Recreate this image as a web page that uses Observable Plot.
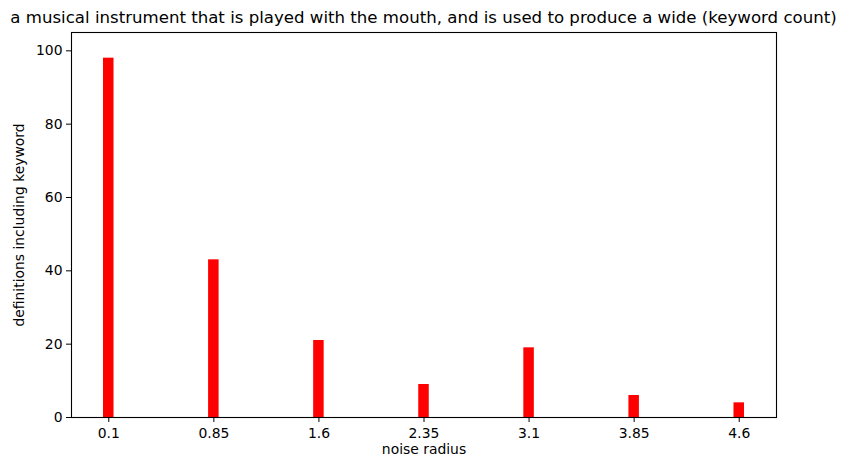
<!DOCTYPE html>
<html>
<head>
<meta charset="utf-8">
<script src="https://cdn.jsdelivr.net/npm/d3@7"></script>
<script src="https://cdn.jsdelivr.net/npm/@observablehq/plot@0.6"></script>
<style>
  html, body { margin: 0; padding: 0; background: white; }
  #wrap { position: relative; width: 846px; height: 470px; font-family: "DejaVu Sans", sans-serif; }
  #title { position: absolute; left: 0.5px; top: 8px; width: 846px; text-align: center; font-size: 16.6px; line-height: 20px; color: black; white-space: nowrap; }
</style>
</head>
<body>
<div id="wrap">
  <div id="chart"></div>
  <div id="title">a musical instrument that is played with the mouth, and is used to produce a wide (keyword count)</div>
</div>
<script>
const radii = [0.1, 0.85, 1.6, 2.35, 3.1, 3.85, 4.6];
const tickLabels = ["0.1", "0.85", "1.6", "2.35", "3.1", "3.85", "4.6"];
const counts = [98, 43, 21, 9, 19, 6, 4];
const yTicks = [0, 20, 40, 60, 80, 100];
const barWidth = 0.075;

const data = radii.map((r, i) => ({radius: r, count: counts[i]}));

const chart = Plot.plot({
  width: 846,
  height: 470,
  marginLeft: 71,
  marginRight: 70,
  marginTop: 32,
  marginBottom: 53,
  style: {fontFamily: "DejaVu Sans, sans-serif", fontSize: "13.9px", color: "black", background: "white"},
  x: {domain: [-0.166, 4.866]},
  y: {domain: [0, 105]},
  marks: [
    Plot.rectY(data, {x1: d => d.radius - barWidth / 2, x2: d => d.radius + barWidth / 2, y: "count", fill: "red"}),
    Plot.frame({stroke: "black", strokeWidth: 1.1}),
    Plot.axisX({ticks: radii, tickFormat: (d, i) => tickLabels[i], tickSize: 5, tickPadding: 6, label: null, fontSize: 13.9}),
    Plot.axisY({ticks: yTicks, tickSize: 5, tickPadding: 4, label: null, fontSize: 13.9}),
    Plot.text(["noise radius"], {frameAnchor: "bottom", dy: 36, fontSize: 13.9, fill: "black"}),
    Plot.text(["definitions including keyword"], {frameAnchor: "left", textAnchor: "middle", dx: -52, rotate: -90, fontSize: 13.9, fill: "black"})
  ]
});
document.getElementById("chart").appendChild(chart);
</script>
</body>
</html>
